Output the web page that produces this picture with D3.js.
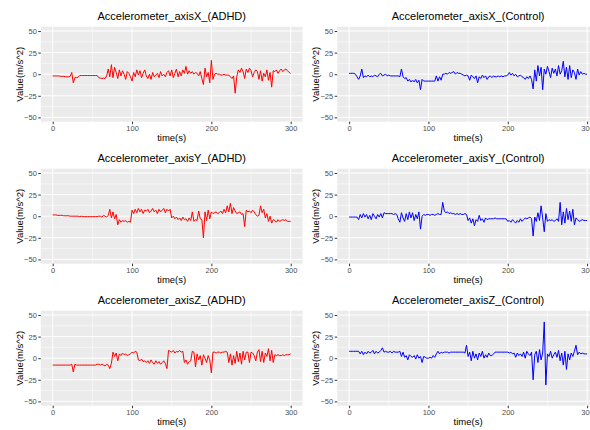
<!DOCTYPE html>
<html>
<head>
<meta charset="utf-8">
<script src="https://cdn.jsdelivr.net/npm/d3@7/dist/d3.min.js"></script>
<style>
body{margin:0;background:#fff}
svg{display:block}
text{font-family:"Liberation Sans",Arial,sans-serif}
</style>
</head>
<body>
<svg id="fig" width="590" height="430"></svg>
<script>
// samples every 2 s, t = 0..300
var step=2
var xTicks=[0,100,200,300]
var yTicks=[-50,-25,0,25,50]
var titles=["Accelerometer_axisX_(ADHD)","Accelerometer_axisX_(Control)",
"Accelerometer_axisY_(ADHD)","Accelerometer_axisY_(Control)",
"Accelerometer_axisZ_(ADHD)","Accelerometer_axisZ_(Control)"]
var lineColors=["red","blue"]

var xAdhd=[-2,-2,-2,-2,-2,-2.5,-2.5,-2.5,-3,-3,
-3,-2.5,2,-10,-4,-4,-3.5,-1.5,-1.5,-1.5,
-1.5,-1.5,-1.5,-1.5,-1.5,-1.5,-1.5,-1.5,-1.5,-4,
-4.5,-5,-4.5,-5,-2,6,-3,11,-4,8,
2,-5,5,-2,4,0,-6,3,1,-3,
-8,2,-3,5,-1,4,-4,1,5,-2,
-5,0,-6,2,-3,-1,1,-4,3,-2,
0,-3,2,4,-2,5,-4,1,6,-3,
3,-2,5,1,9,0,4,1,3,0,
2,1,-2,3,-5,-12,7,-3,2,-10,
16,-6,0,1,0,0,-1,-1,0,-1,
-1,-1,-3,-5,-2,-22,-3,5,2,7,
3,-5,6,2,7,4,-3,2,5,3,
-6,4,-8,1,-3,5,-7,2,-15,4,
3,5,1,4,6,3,5,6,4,2,
1]
var xControl=[1,1,1,1,0,-3,-6,-2,6,-4,
-2,-3,-1,-3,-2,-3,-1,-2,-3,0,
1,-2,-1,0,-2,-1,-2,-2,-2,-2,
-2,-2,-3,6,-3,-5,-4,-8,-6,-9,
-7,-9,-6,-10,-7,-18,-6,-8,-8,-8,
-8,-8,-8,-8,-8,-2,-8,-3,-7,0,
0,1,0,2,1,2,3,0,2,1,
1,0,-1,-2,-1,-2,-7,-1,-3,-5,
-2,-10,-3,-5,-1,-4,-2,-6,-3,-2,
-4,-2,-3,-3,-2,-3,-2,-3,-2,-2,
-1,2,-1,1,-2,0,-3,-2,-1,-3,
-4,-6,-3,-5,-2,-6,-17,5,-8,10,
-2,8,-18,6,0,9,3,-4,7,1,
6,-2,10,0,4,15,-3,8,-6,10,
-4,5,2,-6,6,-1,3,0,1,0,
0]
var yAdhd=[1.5,1.5,1.5,1,1,1,1,0.5,0.5,0.5,
0.5,0,0,0,0,0,0,-0.5,0,-0.5,
-0.5,-0.5,-0.5,-0.5,-0.5,-0.5,-0.5,-0.5,-0.5,0,
0,-1,1,0,-1,1,8,-2,5,-3,
2,-10,-4,-7,-5,-6,-5,-7,-6,-7,
7,3,8,4,9,5,8,3,7,6,
8,4,6,9,5,7,3,8,5,7,
9,4,8,6,8,-2,0,-3,-1,-4,
-2,-5,-1,-4,-3,-6,-2,-5,5,-6,
-4,-5,6,-3,-4,-25,5,-5,7,-3,
5,3,4,5,3,4,6,3,8,4,
12,5,15,3,10,6,3,4,5,2,
3,-12,7,5,6,4,7,5,2,0,
1,12,4,8,-2,3,-6,0,-8,-4,
-5,-7,-4,-6,-5,-4,-5,-4,-6,-6,
-6]
var yControl=[-1,-1,-1,-1,-1,-1,-4,2,-2,3,
-1,2,-3,1,-4,3,0,-3,2,-1,
3,-2,4,3,3,3,3,3,2,3,
2,-3,-7,4,-2,-6,3,-4,5,-2,
4,-5,2,-3,5,-15,0,2,1,2,
2,1,2,2,1,2,3,2,2,16,
6,4,5,3,4,3,3,2,3,2,
3,2,2,3,2,-5,-2,-8,-3,-11,
-4,-6,1,-5,-3,-7,-2,-4,-3,-3,
-3,-3,-2,-3,-3,-3,-3,-3,-3,-3,
-6,-5,-7,-4,-6,-8,-5,-7,-3,-6,
-4,-2,-3,-2,-1,-3,-23,-1,-6,4,
-5,12,-2,-18,3,-6,-4,-5,-4,-6,
-5,-3,-6,16,-10,5,-8,9,-4,6,
-6,8,-10,-2,-4,-6,-5,-4,-5,-5,
-5]
var zAdhd=[-8,-8,-8,-8,-8,-8,-8,-8,-8,-8,
-8,-8,-7,-16,-7,-8,-8,-8,-8,-8,
-8,-8,-8,-8,-8,-8,-8,-8,-7,-7,
-8,-7,-8,-9,-7,-8,-12,-6,7,2,
6,-3,5,3,6,4,5,3,4,5,
7,6,8,7,-2,-3,-1,-4,-3,-5,
-3,-6,-2,-5,-7,-3,-6,-4,-7,-5,
-3,-6,-12,9,8,7,9,6,8,7,
9,7,8,-5,-2,-7,-4,-3,8,7,
-10,5,-2,3,-8,4,0,-5,3,-2,
-17,7,7,6,7,7,6,7,7,8,
7,-5,5,-8,3,-6,8,-4,6,-7,
8,-2,7,7,-5,7,6,3,-3,7,
10,-4,8,-5,6,2,11,-3,9,-5,
4,3,4,3,3,4,3,4,4,4,
5]
var zControl=[8,8,8,8,8,8,8,5,8,4,
7,5,8,6,7,9,5,8,6,7,
9,12,7,8,7,7,8,6,8,7,
7,7,8,2,7,1,3,-2,4,2,
1,3,-1,4,0,2,-5,2,1,0,
0,1,0,3,1,5,8,5,7,6,
7,7,7,6,7,7,7,7,7,7,
7,7,7,6,15,2,7,-3,8,0,
5,-2,6,2,8,0,4,1,6,3,
3,5,7,7,7,7,7,7,7,7,
7,6,7,5,6,1,6,3,5,2,
7,0,8,5,3,7,-25,4,8,-5,
10,-2,6,42,-31,5,2,8,0,4,
7,1,9,-3,6,-8,8,-13,5,-2,
6,2,8,15,4,7,5,6,5,5,
5]

var series=[xAdhd,xControl,yAdhd,yControl,zAdhd,zControl]

var svg=d3.select("#fig")
var colLeft=[40.8,337.2], panelW=261.8, panelH=95, rowTop=26.7, rowGap=142

series.forEach((vals,k)=>{
	var col=k%2, row=Math.floor(k/2)
	var left=colLeft[col], top=rowTop+row*rowGap
	var x=d3.scaleLinear().domain([-15,315]).range([left,left+panelW])
	var y=d3.scaleLinear().domain([-55,55]).range([top+panelH,top])
	var g=svg.append("g")

	g.append("rect").attr("x",left).attr("y",top).attr("width",panelW).attr("height",panelH).attr("fill","#ebebeb")
	// minor grid
	var xMinor=xTicks.slice(1).map((d,i)=>(d+xTicks[i])/2)
	var yMinor=yTicks.slice(1).map((d,i)=>(d+yTicks[i])/2)
	g.selectAll(".vmin").data(xMinor).enter().append("line")
	.attr("x1",d=>x(d)).attr("x2",d=>x(d)).attr("y1",top).attr("y2",top+panelH)
	.attr("stroke","#fff").attr("stroke-width",0.5)
	g.selectAll(".hmin").data(yMinor).enter().append("line")
	.attr("y1",d=>y(d)).attr("y2",d=>y(d)).attr("x1",left).attr("x2",left+panelW)
	.attr("stroke","#fff").attr("stroke-width",0.5)
	// major grid
	g.selectAll(".vmaj").data(xTicks).enter().append("line")
	.attr("x1",d=>x(d)).attr("x2",d=>x(d)).attr("y1",top).attr("y2",top+panelH)
	.attr("stroke","#fff").attr("stroke-width",1)
	g.selectAll(".hmaj").data(yTicks).enter().append("line")
	.attr("y1",d=>y(d)).attr("y2",d=>y(d)).attr("x1",left).attr("x2",left+panelW)
	.attr("stroke","#fff").attr("stroke-width",1)

	var line=d3.line().x((d,i)=>x(i*step)).y(d=>y(d))
	g.append("path").datum(vals).attr("d",line).attr("fill","none")
	.attr("stroke",lineColors[col]).attr("stroke-width",1).attr("stroke-linejoin","round")

	var ax=g.append("g").attr("transform","translate(0,"+(top+panelH)+")")
	.call(d3.axisBottom(x).tickValues(xTicks).tickSize(2.5).tickPadding(1.5))
	var ay=g.append("g").attr("transform","translate("+left+",0)")
	.call(d3.axisLeft(y).tickValues(yTicks).tickSize(2.5).tickPadding(1.5))
	;[ax,ay].forEach(a=>{
		a.select(".domain").remove()
		a.selectAll(".tick line").attr("stroke","#333")
		a.selectAll(".tick text").attr("fill","#4d4d4d").style("font-size","7.5px")
	})

	g.append("text").attr("x",left+panelW/2).attr("y",top-6.7).attr("text-anchor","middle")
	.style("font-size","11px").attr("fill","#000").text(titles[k])
	g.append("text").attr("x",left+panelW/2).attr("y",top+panelH+19.5).attr("text-anchor","middle")
	.style("font-size","9.5px").attr("fill","#000").text("time(s)")
	g.append("text").attr("transform","translate("+(left-21.5)+","+(top+panelH/2)+") rotate(-90)")
	.attr("text-anchor","middle").attr("dy","0.35em")
	.style("font-size","9.5px").attr("fill","#000").text("Value(m/s^2)")
})
</script>
</body>
</html>
